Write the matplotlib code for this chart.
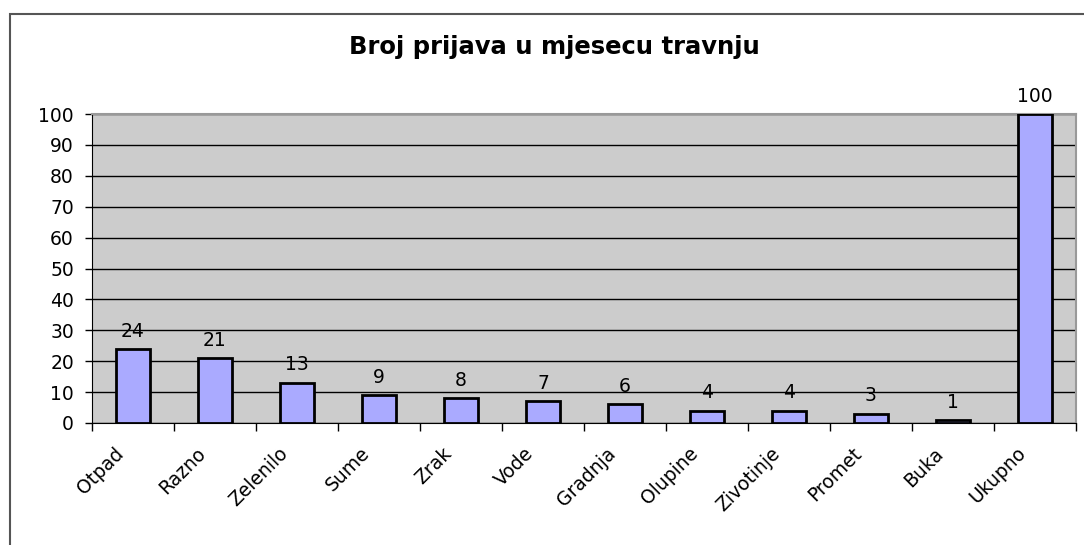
import numpy as np
import matplotlib.pyplot as plt
import matplotlib.transforms as mtransforms
from matplotlib.patches import Rectangle

categories = ["Otpad", "Razno", "Zelenilo", "Sume", "Zrak", "Vode", "Gradnja",
              "Olupine", "Zivotinje", "Promet", "Buka", "Ukupno"]
values = [24, 21, 13, 9, 8, 7, 6, 4, 4, 3, 1, 100]
yticks = [0, 10, 20, 30, 40, 50, 60, 70, 80, 90, 100]

fs = 13.5

fig = plt.figure(figsize=(10.84, 5.45), dpi=100)
# outer chart frame
fig.add_artist(Rectangle((10/1084, -0.1), 1.2, 1 - 14/545 + 0.1, transform=fig.transFigure,
                         fill=False, edgecolor="#555555", linewidth=1.5))

ax = fig.add_axes([92/1084, 1 - 423/545, (1076 - 92)/1084, (423 - 114)/545])
ax.set_facecolor("#cccccc")

x = np.arange(len(categories))
ax.bar(x, values, width=0.41, color="#aaaaff", edgecolor="black", linewidth=2, zorder=3)
for xi, v in zip(x, values):
    ax.annotate(str(v), (xi, v), xytext=(0, 6), textcoords="offset points",
                ha="center", va="bottom", fontsize=fs)

ax.set_xlim(-0.5, len(categories) - 0.5)
ax.set_ylim(0, 100)
ax.set_yticks(yticks)
ax.tick_params(axis="y", labelsize=fs, length=5, width=1, direction="out", pad=8)
ax.yaxis.grid(True, color="black", linewidth=1, zorder=0)
ax.set_axisbelow(True)

# x ticks at category boundaries, labels at centres
ax.set_xticks(np.arange(len(categories) + 1) - 0.5)
ax.set_xticklabels([])
ax.tick_params(axis="x", length=6, width=1, direction="out")
ax.set_xticks(x, minor=True)
ax.set_xticklabels(categories, minor=True, rotation=45, ha="right",
                   rotation_mode="anchor", fontsize=fs)
ax.tick_params(axis="x", which="minor", length=0, pad=7)
shift = mtransforms.ScaledTranslation(-0.19, -0.11, fig.dpi_scale_trans)
for lab in ax.get_xticklabels(minor=True):
    lab.set_transform(lab.get_transform() + shift)

ax.spines["left"].set_color("black")
ax.spines["bottom"].set_color("black")
ax.spines["top"].set_color("#999999")
ax.spines["right"].set_color("#999999")
ax.spines["top"].set_linewidth(1.5)
ax.spines["right"].set_linewidth(1.5)

fig.text(554 / 1084, 1 - 47/545, "Broj prijava u mjesecu travnju",
         ha="center", va="center", fontsize=17.5, fontweight="bold")

fig.savefig("out.png", dpi=100)
